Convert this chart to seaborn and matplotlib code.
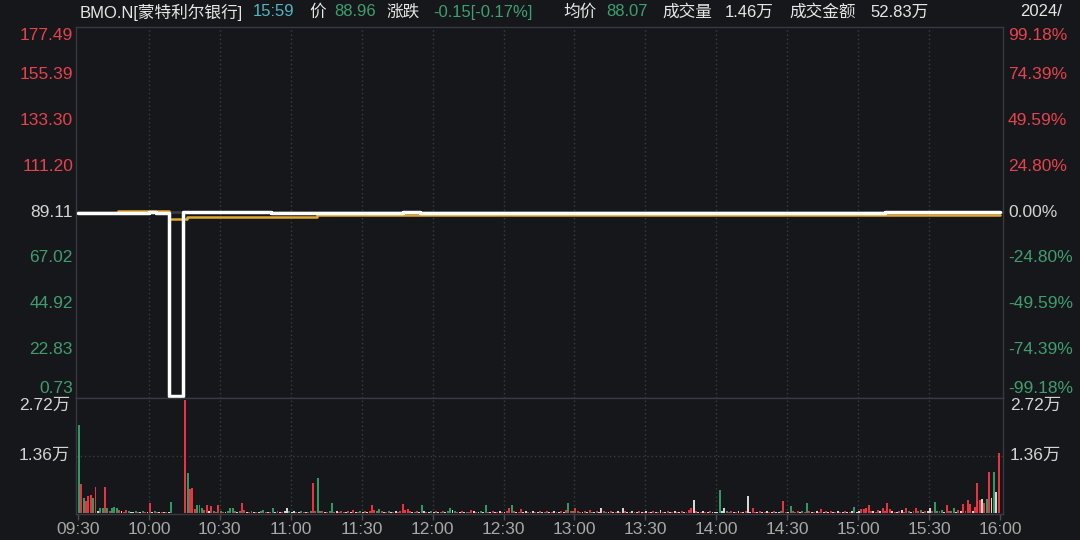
import numpy as np
import pandas as pd
import matplotlib
matplotlib.use("Agg")
import matplotlib.pyplot as plt
import seaborn as sns
from matplotlib.transforms import blended_transform_factory

# ---------------- data ----------------
# price (step breakpoints, minutes after 09:30)
price_t = [0, 17, 30, 33, 38.5, 44.5, 81.5, 137.5, 144.5, 341.5, 390]
price_v = [88.8, 88.4, 89.0, 88.4, 0.73, 89.2, 88.4, 89.2, 88.4, 89.0, 89.0]
# average price (step breakpoints)
avg_t = [0, 17, 38.5, 46, 101, 342, 390]
avg_v = [88.8, 89.4, 85.6, 86.9, 87.5, 87.9, 87.9]

# per-minute volume (hundreds of shares), 13 half-hour rows
vol_rows = [
    [208, 68, 35, 28, 40, 43, 36, 62, 5, 12, 12, 61, 12, 4, 13, 14, 13, 6, 4, 3, 8, 4, 3, 3, 5, 2, 3, 4, 3, 2],
    [24, 3, 4, 2, 3, 2, 3, 2, 3, 26, 0, 0, 0, 0, 0, 267, 94, 57, 59, 10, 19, 20, 12, 8, 19, 4, 17, 5, 3, 20],
    [4, 3, 2, 4, 13, 13, 5, 3, 4, 24, 6, 3, 2, 4, 3, 3, 2, 4, 6, 3, 2, 3, 12, 3, 4, 3, 2, 4, 12, 4],
    [3, 4, 2, 3, 4, 3, 2, 3, 4, 71, 5, 83, 5, 4, 3, 2, 4, 23, 3, 4, 2, 5, 3, 2, 4, 3, 6, 3, 2, 4],
    [3, 4, 2, 5, 19, 6, 4, 10, 5, 3, 2, 4, 3, 2, 4, 3, 5, 21, 7, 9, 4, 3, 2, 4, 3, 18, 5, 3, 2, 4],
    [3, 4, 2, 3, 4, 3, 5, 13, 8, 4, 3, 2, 4, 3, 2, 3, 8, 4, 3, 2, 4, 3, 20, 3, 2, 4, 3, 2, 4, 3],
    [2, 4, 13, 18, 4, 3, 2, 9, 3, 4, 2, 3, 4, 3, 2, 4, 3, 2, 4, 3, 2, 4, 3, 2, 4, 3, 6, 23, 4, 5],
    [12, 4, 3, 2, 4, 3, 8, 3, 2, 4, 3, 13, 4, 3, 2, 4, 3, 2, 4, 3, 12, 4, 3, 2, 4, 3, 2, 4, 3, 2],
    [4, 3, 2, 4, 3, 2, 6, 3, 2, 4, 3, 2, 4, 3, 2, 4, 3, 2, 6, 13, 31, 4, 3, 2, 4, 3, 2, 4, 3, 2],
    [3, 54, 4, 13, 5, 3, 4, 3, 2, 4, 3, 2, 4, 40, 3, 13, 3, 2, 4, 3, 2, 4, 3, 2, 4, 3, 3, 4, 28, 3],
    [2, 17, 4, 3, 5, 3, 4, 2, 23, 4, 3, 2, 4, 3, 9, 3, 4, 2, 4, 3, 2, 4, 3, 2, 4, 3, 2, 4, 15, 3],
    [4, 9, 10, 12, 19, 5, 4, 3, 6, 5, 12, 4, 24, 9, 4, 3, 2, 4, 7, 3, 12, 4, 3, 5, 13, 4, 6, 3, 5, 4],
    [13, 4, 26, 5, 4, 6, 3, 19, 5, 4, 13, 3, 7, 4, 21, 5, 31, 22, 4, 15, 72, 31, 33, 24, 32, 96, 35, 96, 50, 141],
]
# r = up (red), g = down (green), w = flat (white)
dir_rows = [
    "grgrrrgrwg" "grgrgggrwr" "rgwwgrwgrw",
    "rwgrwrwrwg" "wwwwwrgrrr" "gggrrwrgrr",
    "grwgggrwgr" "rwrgwrwggr" "wrgwrwrwwg",
    "wwrwgrwrgr" "rggrwrggrw" "rrgwrwrwrg",
    "wrwrrrggrw" "rgwrwrrrrr" "rwgrwgwrwg",
    "wrwgrwggwg" "rwrwgrrwrw" "gwgrwrwrwr",
    "wrrgrwrrww" "rgwrwrwgrw" "rwrwrwrgrg",
    "rrgwrwrgwr" "wwrgwrwrwr" "wrwrwrwrwr",
    "wrwrwrwrwr" "wrwrwrwrrr" "wrwrwrwrww",
    "wgwwgrrwrw" "rwrwwrrwrw" "rwrwrwwgrr",
    "wgrgrwgrgr" "wrwrrwrwrw" "rwrwrwrwgw",
    "wrrrrrwrrw" "rrrrwrwrwr" "rgwrrrgwrw",
    "wrggrgwrrg" "gwrwrrrrwr" "rrwrgrwgwr",
]

price_ticks = [0.73, 22.83, 44.92, 67.02, 89.11, 111.20, 133.30, 155.39, 177.49]
pct_labels = ["-99.18%", "-74.39%", "-49.59%", "-24.80%", "0.00%",
              "24.80%", "49.59%", "74.39%", "99.18%"]
vol_ticks = [13600, 27200]
vol_labels = ["1.36万", "2.72万"]
time_labels = ["09:30", "10:00", "10:30", "11:00", "11:30", "12:00", "12:30",
               "13:00", "13:30", "14:00", "14:30", "15:00", "15:30", "16:00"]
prev_close = 89.11

# ---------------- style ----------------
BG = "#16171b"
RED = "#e8343f"
GREEN = "#2f9a63"
WHITE_BAR = "#d6d6d6"
GRID = "#3b3c41"
SPINE = "#393a3f"
TXT = "#d4d4d4"

sns.set_theme(style="dark")
plt.rcParams["font.family"] = ["Liberation Sans", "Noto Sans CJK SC", "DejaVu Sans"]

W, H = 1080, 540
fig = plt.figure(figsize=(W / 100, H / 100), dpi=100, facecolor=BG)

L, R = 76, 1003
ax_p = fig.add_axes([L / W, 1 - 398 / H, (R - L) / W, (398 - 27) / H])
ax_v = fig.add_axes([L / W, 1 - 514 / H, (R - L) / W, (514 - 398) / H])

ppm = (1000 - 78) / 390.0
xl = (-(78 - L) / ppm, 390 + (R - 1000) / ppm)

for ax in (ax_p, ax_v):
    ax.set_facecolor(BG)
    ax.grid(False)
    for s in ax.spines.values():
        s.set_visible(True)
        s.set_color(SPINE)
        s.set_linewidth(1.0)
    for m in range(30, 390, 30):
        ax.axvline(m, color=GRID, lw=1.0, ls=(0, (1, 2)), zorder=0)

# price pane
ppx = (price_ticks[-1] - price_ticks[0]) / (396 - 28)
ax_p.set_ylim(price_ticks[0] - 2 * ppx, price_ticks[-1] + 1 * ppx)
ax_p.axhline(prev_close, color="#3a3b40", lw=2.0, zorder=1)
sns.lineplot(x=avg_t, y=avg_v, drawstyle="steps-post", estimator=None, sort=False,
             color="#e3a72f", linewidth=1.8, ax=ax_p, zorder=3)
sns.lineplot(x=price_t, y=price_v, drawstyle="steps-post", estimator=None, sort=False,
             color="white", linewidth=2.5, ax=ax_p, zorder=4)
ax_p.set_xlim(*xl)
ax_p.set_xticks([])
ax_p.set_yticks([])
ax_p.set_xlabel("")
ax_p.set_ylabel("")

tl = blended_transform_factory(fig.transFigure, ax_p.transData)
n = len(price_ticks)
for i, (v, pl) in enumerate(zip(price_ticks, pct_labels)):
    if v > prev_close + 1e-6:
        c = "#e5434d"
    elif v < prev_close - 1e-6:
        c = "#3f9e6e"
    else:
        c = TXT
    va = "bottom" if i == 0 else ("top" if i == n - 1 else "center")
    ax_p.text(73 / W, v, f"{v:.2f}", transform=tl, ha="right", va=va,
              color=c, fontsize=12.5)
    ax_p.text(1008 / W, v, pl, transform=tl, ha="left", va=va,
              color=c, fontsize=12.5)

# volume pane
vols = np.array([v for row in vol_rows for v in row]) * 100
dirs = list("".join(dir_rows))
df = pd.DataFrame({"m": np.arange(len(vols)) + 0.4, "vol": vols, "dir": dirs})
sns.barplot(data=df, x="m", y="vol", hue="dir",
            palette={"r": RED, "g": GREEN, "w": WHITE_BAR},
            native_scale=True, dodge=False, width=0.82, errorbar=None,
            saturation=1, linewidth=0, legend=False, ax=ax_v)
vpx = vol_ticks[-1] / 115.0
ax_v.set_ylim(-1 * vpx, vol_ticks[-1])
ax_v.axhline(vol_ticks[0], color=GRID, lw=1.0, ls=(0, (1, 2)), zorder=0)
ax_v.set_xlim(*xl)
ax_v.set_yticks([])
ax_v.set_xticks(range(0, 391, 30))
ax_v.set_xticklabels(time_labels)
ax_v.tick_params(axis="x", colors="#4a4b50", length=4, width=1, pad=2,
                 labelcolor="#a8a8a8", labelsize=12.5, bottom=True)
ax_v.set_xlabel("")
ax_v.set_ylabel("")

tv = blended_transform_factory(fig.transFigure, ax_v.transData)
for v, lab in zip(vol_ticks, vol_labels):
    va = "top" if v == vol_ticks[-1] else "center"
    ax_v.text(70 / W, v, lab, transform=tv, ha="right", va=va, color=TXT, fontsize=12.5)
    ax_v.text(1010 / W, v, lab, transform=tv, ha="left", va=va, color=TXT, fontsize=12.5)

# header
hy = 1 - 12 / H
header = [
    (80, "BMO.N[蒙特利尔银行]", "#e6e6e6"),
    (253, "15:59", "#52b6c2"),
    (309, "价", "#e6e6e6"),
    (334, "88.96", "#3da06f"),
    (386, "涨跌", "#e6e6e6"),
    (433, "-0.15[-0.17%]", "#3da06f"),
    (563, "均价", "#e6e6e6"),
    (606, "88.07", "#3da06f"),
    (662, "成交量", "#e6e6e6"),
    (725, "1.46万", "#e6e6e6"),
    (789, "成交金额", "#e6e6e6"),
    (870, "52.83万", "#e6e6e6"),
    (1020, "2024/", "#e6e6e6"),
]
for x, s, c in header:
    fig.text(x / W, hy, s, ha="left", va="center", color=c, fontsize=12)

fig.savefig("out.png", dpi=100, facecolor=BG)
